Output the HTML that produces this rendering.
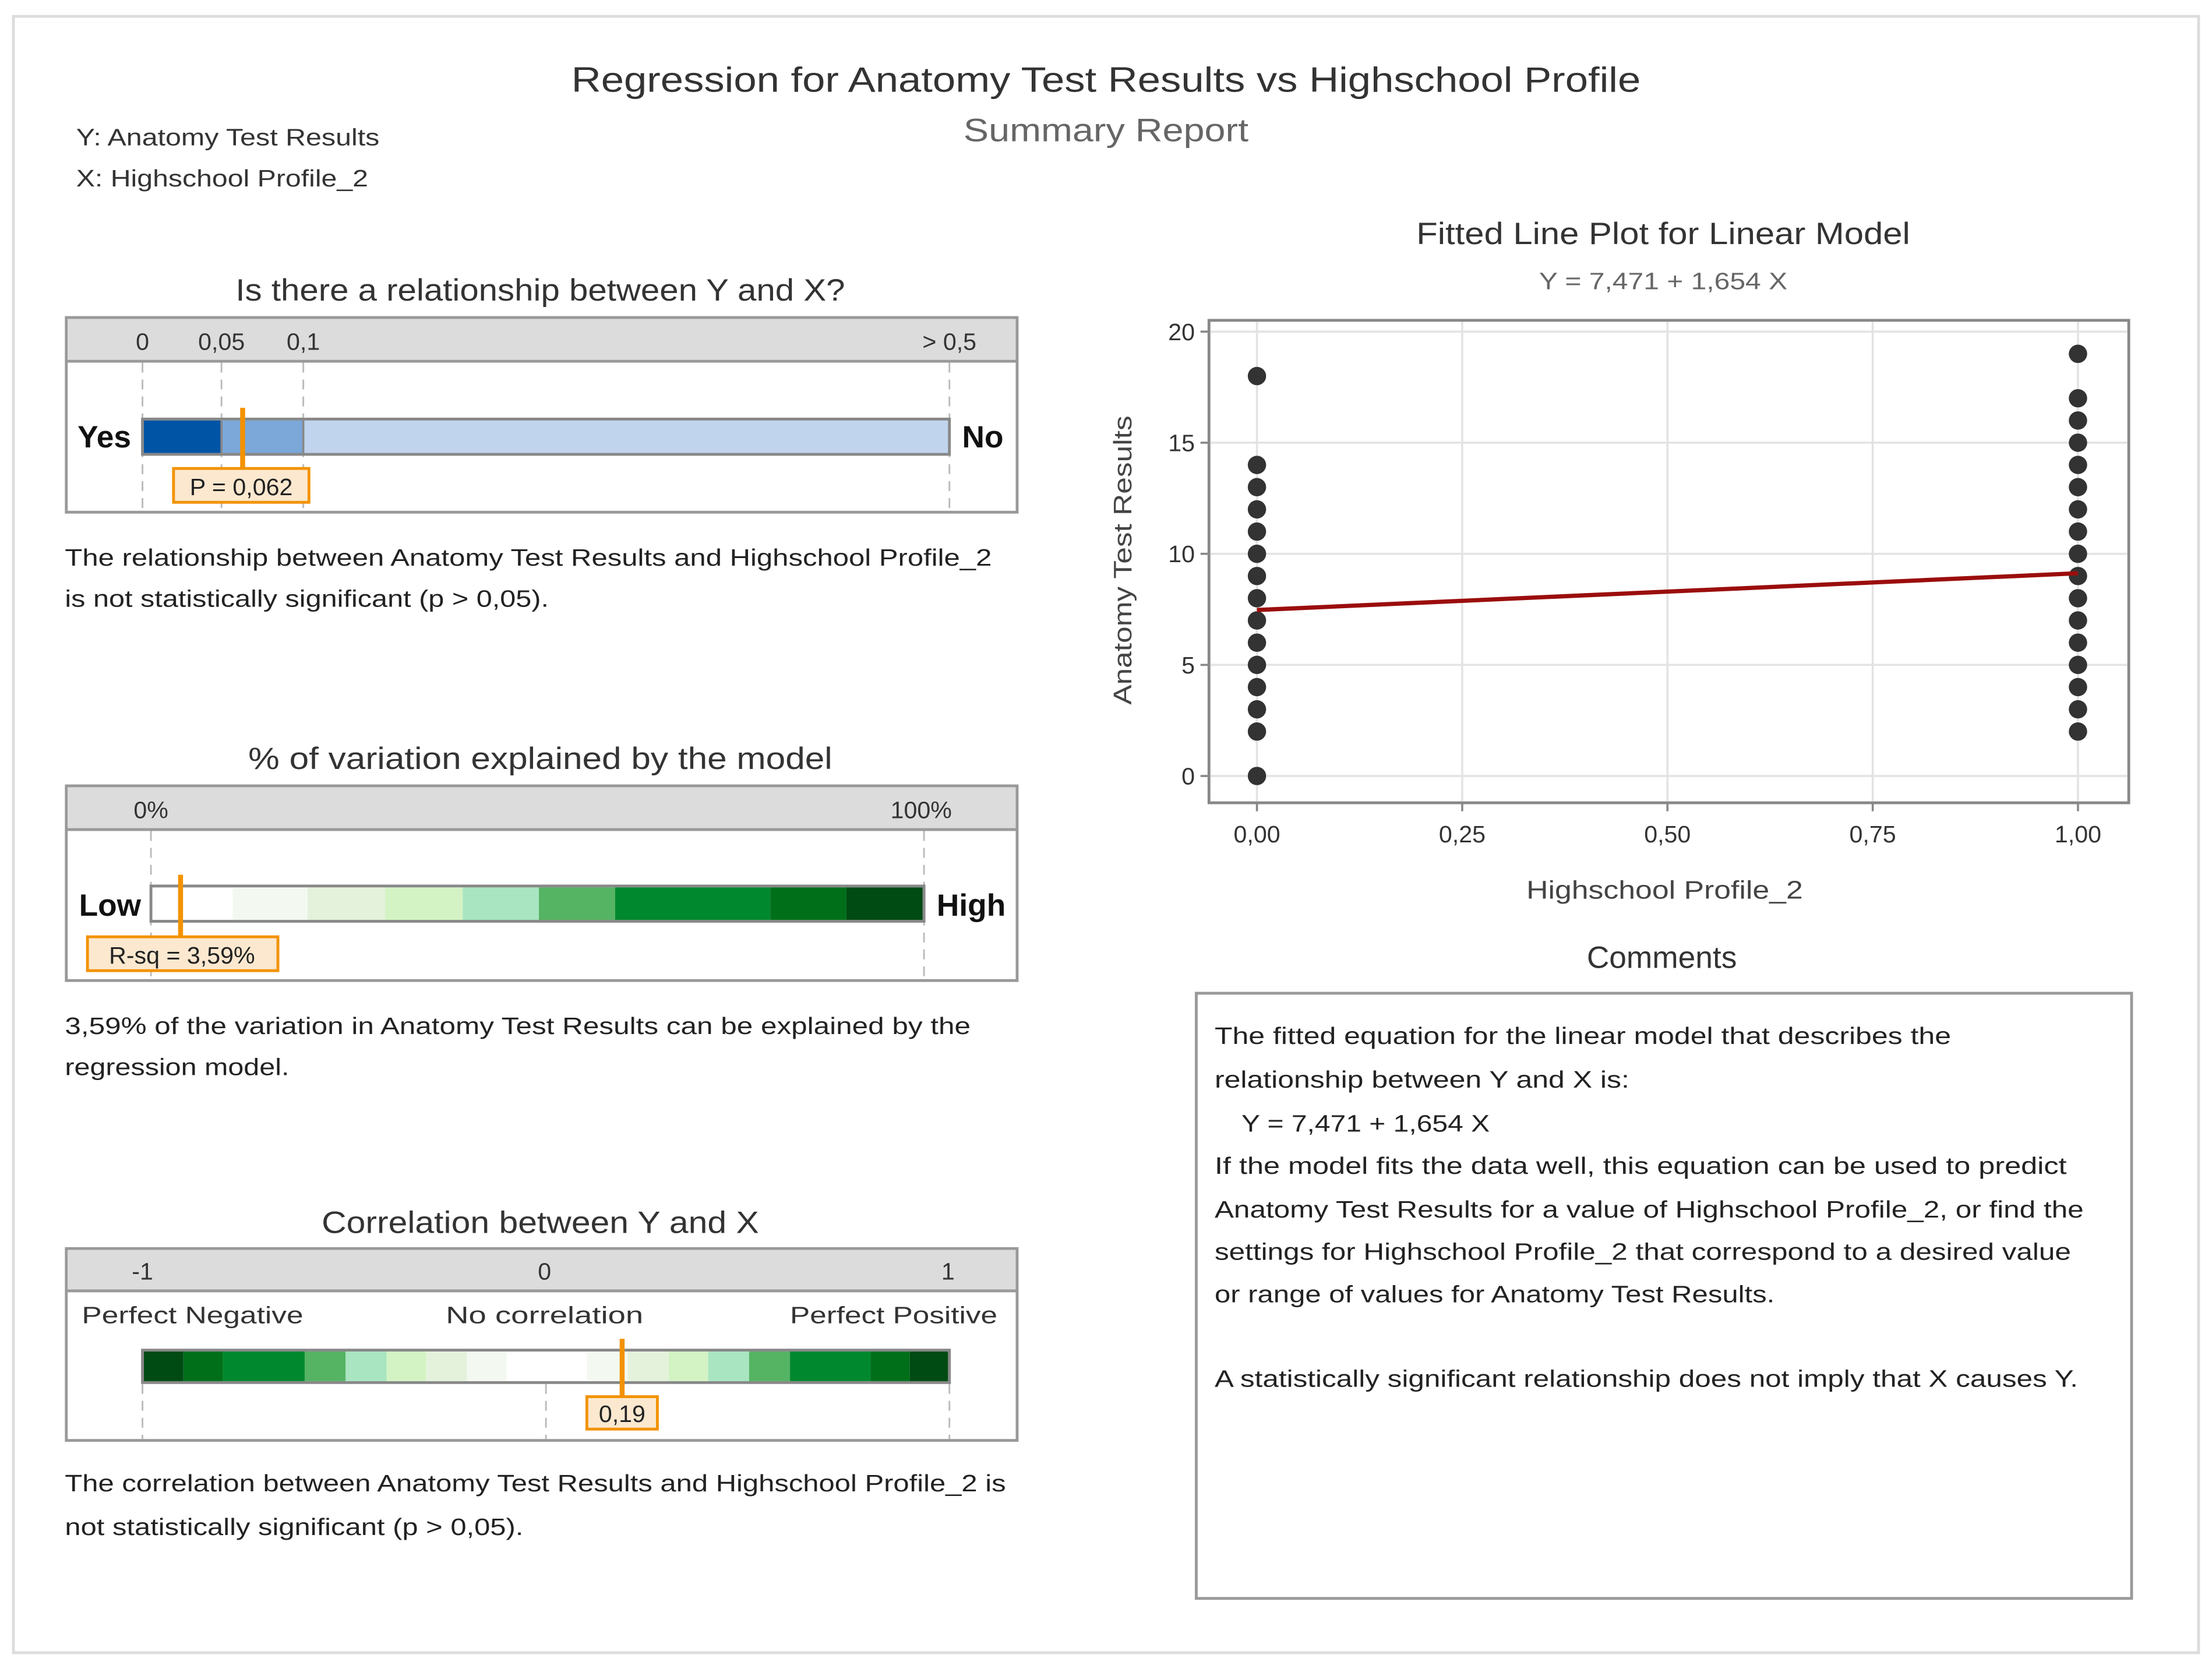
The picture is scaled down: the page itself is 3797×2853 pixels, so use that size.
<!DOCTYPE html>
<html><head><meta charset="utf-8"><style>
html,body{margin:0;padding:0;background:#fff;}
svg{display:block;font-family:"Liberation Sans",sans-serif;}
</style></head><body>
<svg id="root" width="3797" height="2853" viewBox="0 0 1568 1178">
<rect x="9.5" y="11.5" width="1549" height="1160" fill="#fff" stroke="#dcdcdc" stroke-width="2"/>
<text x="784" y="65" font-size="25" fill="#333" text-anchor="middle" textLength="758" lengthAdjust="spacingAndGlyphs">Regression for Anatomy Test Results vs Highschool Profile</text>
<text x="784" y="100" font-size="23" fill="#666" text-anchor="middle" textLength="202" lengthAdjust="spacingAndGlyphs">Summary Report</text>
<text x="54" y="103" font-size="17" fill="#333" textLength="215" lengthAdjust="spacingAndGlyphs">Y: Anatomy Test Results</text>
<text x="54" y="132" font-size="17" fill="#333" textLength="207" lengthAdjust="spacingAndGlyphs">X: Highschool Profile_2</text>

<!-- Panel 1 -->
<g>
<text x="383" y="213" font-size="22" fill="#333" text-anchor="middle" textLength="432" lengthAdjust="spacingAndGlyphs">Is there a relationship between Y and X?</text>
<rect x="47" y="225" width="674" height="138" fill="#fff" stroke="#999" stroke-width="2"/>
<rect x="48" y="226" width="672" height="30" fill="#dcdcdc"/>
<line x1="47" y1="256" x2="721" y2="256" stroke="#999" stroke-width="2"/>
<g font-size="17" fill="#333" text-anchor="middle">
<text x="101" y="248">0</text><text x="157" y="248">0,05</text><text x="215" y="248">0,1</text><text x="673" y="248">&gt; 0,5</text>
</g>
<g stroke="#bbb" stroke-dasharray="7,5" stroke-width="1.2">
<line x1="101" y1="257" x2="101" y2="362"/><line x1="157" y1="257" x2="157" y2="362"/><line x1="215" y1="257" x2="215" y2="362"/><line x1="673" y1="257" x2="673" y2="362"/>
</g>
<rect x="101" y="297" width="572" height="25" fill="#c0d4ee" stroke="#888" stroke-width="2"/>
<rect x="102" y="298" width="55" height="23" fill="#0054a6"/>
<rect x="157" y="298" width="58" height="23" fill="#7ba7d9"/>
<line x1="157" y1="298" x2="157" y2="321" stroke="#888" stroke-width="1.5"/><line x1="215" y1="298" x2="215" y2="321" stroke="#888" stroke-width="1.5"/>
<text x="55" y="317" font-size="22" font-weight="bold" fill="#111">Yes</text>
<text x="682" y="317" font-size="22" font-weight="bold" fill="#111">No</text>
<line x1="172" y1="289" x2="172" y2="332" stroke="#f39200" stroke-width="3.5"/>
<rect x="123" y="332" width="96" height="24" fill="#fbe8cf" stroke="#f39200" stroke-width="2"/>
<text x="171" y="351" font-size="17" fill="#222" text-anchor="middle">P = 0,062</text>
<text x="46" y="401" font-size="17" fill="#222" textLength="657" lengthAdjust="spacingAndGlyphs">The relationship between Anatomy Test Results and Highschool Profile_2</text>
<text x="46" y="430" font-size="17" fill="#222" textLength="343" lengthAdjust="spacingAndGlyphs">is not statistically significant (p &gt; 0,05).</text>
</g>

<!-- Panel 2 -->
<g>
<text x="383" y="545" font-size="22" fill="#333" text-anchor="middle" textLength="414" lengthAdjust="spacingAndGlyphs">% of variation explained by the model</text>
<rect x="47" y="557" width="674" height="138" fill="#fff" stroke="#999" stroke-width="2"/>
<rect x="48" y="558" width="672" height="30" fill="#dcdcdc"/>
<line x1="47" y1="588" x2="721" y2="588" stroke="#999" stroke-width="2"/>
<text x="107" y="580" font-size="17" fill="#333" text-anchor="middle">0%</text>
<text x="653" y="580" font-size="17" fill="#333" text-anchor="middle">100%</text>
<g stroke="#bbb" stroke-dasharray="7,5" stroke-width="1.2"><line x1="107" y1="589" x2="107" y2="694"/><line x1="655" y1="589" x2="655" y2="694"/></g>
<rect x="107" y="628" width="548" height="25" fill="#fff" stroke="#888" stroke-width="2"/>
<rect x="165" y="629" width="53" height="23" fill="#f3f9f1"/>
<rect x="218" y="629" width="55" height="23" fill="#e4f2dc"/>
<rect x="273" y="629" width="55" height="23" fill="#d4f3c4"/>
<rect x="328" y="629" width="54" height="23" fill="#a8e5c0"/>
<rect x="382" y="629" width="54" height="23" fill="#55b364"/>
<rect x="436" y="629" width="110" height="23" fill="#00882e"/>
<rect x="546" y="629" width="54" height="23" fill="#006f1a"/>
<rect x="600" y="629" width="54" height="23" fill="#004a14"/>
<text x="56" y="649" font-size="22" font-weight="bold" fill="#111">Low</text>
<text x="664" y="649" font-size="22" font-weight="bold" fill="#111">High</text>
<line x1="128" y1="620" x2="128" y2="664" stroke="#f39200" stroke-width="3.5"/>
<rect x="62" y="664" width="135" height="24" fill="#fbe8cf" stroke="#f39200" stroke-width="2"/>
<text x="129" y="683" font-size="17" fill="#222" text-anchor="middle">R-sq = 3,59%</text>
<text x="46" y="733" font-size="17" fill="#222" textLength="642" lengthAdjust="spacingAndGlyphs">3,59% of the variation in Anatomy Test Results can be explained by the</text>
<text x="46" y="762" font-size="17" fill="#222" textLength="159" lengthAdjust="spacingAndGlyphs">regression model.</text>
</g>

<!-- Panel 3 -->
<g>
<text x="383" y="874" font-size="22" fill="#333" text-anchor="middle" textLength="310" lengthAdjust="spacingAndGlyphs">Correlation between Y and X</text>
<rect x="47" y="885" width="674" height="136" fill="#fff" stroke="#999" stroke-width="2"/>
<rect x="48" y="886" width="672" height="29" fill="#dcdcdc"/>
<line x1="47" y1="915" x2="721" y2="915" stroke="#999" stroke-width="2"/>
<g font-size="17" fill="#333" text-anchor="middle"><text x="101" y="907">-1</text><text x="386" y="907">0</text><text x="672" y="907">1</text></g>
<text x="58" y="938" font-size="17" fill="#333" textLength="157" lengthAdjust="spacingAndGlyphs">Perfect Negative</text>
<text x="386" y="938" font-size="17" fill="#333" text-anchor="middle" textLength="140" lengthAdjust="spacingAndGlyphs">No correlation</text>
<text x="707" y="938" font-size="17" fill="#333" text-anchor="end" textLength="147" lengthAdjust="spacingAndGlyphs">Perfect Positive</text>
<g stroke="#bbb" stroke-dasharray="7,5" stroke-width="1.2"><line x1="101" y1="981" x2="101" y2="1020"/><line x1="387" y1="981" x2="387" y2="1020"/><line x1="673" y1="981" x2="673" y2="1020"/></g>
<rect x="101" y="957" width="572" height="23" fill="#fff" stroke="#888" stroke-width="2"/>
<rect x="102" y="958" width="28" height="21" fill="#004a14"/>
<rect x="130" y="958" width="28" height="21" fill="#006f1a"/>
<rect x="158" y="958" width="58" height="21" fill="#00882e"/>
<rect x="216" y="958" width="29" height="21" fill="#55b364"/>
<rect x="245" y="958" width="29" height="21" fill="#a8e5c0"/>
<rect x="274" y="958" width="28" height="21" fill="#d4f3c4"/>
<rect x="302" y="958" width="29" height="21" fill="#e4f2dc"/>
<rect x="331" y="958" width="28" height="21" fill="#f3f9f1"/>
<rect x="416" y="958" width="29" height="21" fill="#f3f9f1"/>
<rect x="445" y="958" width="29" height="21" fill="#e4f2dc"/>
<rect x="474" y="958" width="28" height="21" fill="#d4f3c4"/>
<rect x="502" y="958" width="29" height="21" fill="#a8e5c0"/>
<rect x="531" y="958" width="29" height="21" fill="#55b364"/>
<rect x="560" y="958" width="57" height="21" fill="#00882e"/>
<rect x="617" y="958" width="28" height="21" fill="#006f1a"/>
<rect x="645" y="958" width="27" height="21" fill="#004a14"/>
<line x1="441" y1="949" x2="441" y2="990" stroke="#f39200" stroke-width="3.5"/>
<rect x="416" y="990" width="50" height="23" fill="#fbe8cf" stroke="#f39200" stroke-width="2"/>
<text x="441" y="1008" font-size="17" fill="#222" text-anchor="middle">0,19</text>
<text x="46" y="1057" font-size="17" fill="#222" textLength="667" lengthAdjust="spacingAndGlyphs">The correlation between Anatomy Test Results and Highschool Profile_2 is</text>
<text x="46" y="1088" font-size="17" fill="#222" textLength="325" lengthAdjust="spacingAndGlyphs">not statistically significant (p &gt; 0,05).</text>
</g>

<!-- Chart -->
<g id="chart">
<text x="1179" y="173" font-size="22" fill="#333" text-anchor="middle" textLength="350" lengthAdjust="spacingAndGlyphs">Fitted Line Plot for Linear Model</text>
<text x="1179" y="205" font-size="17" fill="#666" text-anchor="middle" textLength="176" lengthAdjust="spacingAndGlyphs">Y = 7,471 + 1,654 X</text>
<rect x="857" y="227" width="652" height="342" fill="#fff" stroke="#888" stroke-width="2"/>
<g id="grid"></g>
<g id="marks"></g>
<text x="1180" y="637" font-size="18" fill="#444" text-anchor="middle" textLength="196" lengthAdjust="spacingAndGlyphs">Highschool Profile_2</text>
<text transform="translate(802,397) rotate(-90)" font-size="18" fill="#444" text-anchor="middle" textLength="205" lengthAdjust="spacingAndGlyphs">Anatomy Test Results</text>
</g>

<!-- Comments -->
<g>
<text x="1178" y="686" font-size="22" fill="#333" text-anchor="middle">Comments</text>
<rect x="848" y="704" width="663" height="429" fill="#fff" stroke="#999" stroke-width="2"/>
<g font-size="17" fill="#222">
<text x="861" y="740" textLength="522" lengthAdjust="spacingAndGlyphs">The fitted equation for the linear model that describes the</text>
<text x="861" y="771" textLength="294" lengthAdjust="spacingAndGlyphs">relationship between Y and X is:</text>
<text x="880" y="802" textLength="176" lengthAdjust="spacingAndGlyphs">Y = 7,471 + 1,654 X</text>
<text x="861" y="832" textLength="604" lengthAdjust="spacingAndGlyphs">If the model fits the data well, this equation can be used to predict</text>
<text x="861" y="863" textLength="616" lengthAdjust="spacingAndGlyphs">Anatomy Test Results for a value of Highschool Profile_2, or find the</text>
<text x="861" y="893" textLength="607" lengthAdjust="spacingAndGlyphs">settings for Highschool Profile_2 that correspond to a desired value</text>
<text x="861" y="923" textLength="397" lengthAdjust="spacingAndGlyphs">or range of values for Anatomy Test Results.</text>
<text x="861" y="983" textLength="612" lengthAdjust="spacingAndGlyphs">A statistically significant relationship does not imply that X causes Y.</text>
</g>
</g>
</svg>
<script>
const xTicks = [0, 0.25, 0.5, 0.75, 1];
const xTickLabels = ["0,00", "0,25", "0,50", "0,75", "1,00"];
const yTicks = [0, 5, 10, 15, 20];
const yTickLabels = ["0", "5", "10", "15", "20"];
const group0Y = [0, 2, 3, 4, 5, 6, 7, 8, 9, 10, 11, 12, 13, 14, 18];
const group1Y = [2, 3, 4, 5, 6, 7, 8, 9, 10, 11, 12, 13, 14, 15, 16, 17, 19];
const intercept = 7.471;
const slope = 1.654;

const NS = "http://www.w3.org/2000/svg";
const sx = v => 891 + v * (1473 - 891);
const sy = v => 550 - v * (550 - 235) / 20;
function mk(tag, attrs, parent) {
  const e = document.createElementNS(NS, tag);
  for (const k in attrs) e.setAttribute(k, attrs[k]);
  parent.appendChild(e);
  return e;
}
const grid = document.getElementById('grid');
const marks = document.getElementById('marks');
xTicks.forEach((t, i) => {
  const l = mk('line', {x1: sx(t), x2: sx(t), y1: 228, y2: 568, stroke: '#e3e3e3', 'stroke-width': 1.5}, grid);
  
  
  mk('line', {x1: sx(t), x2: sx(t), y1: 569, y2: 575, stroke: '#888', 'stroke-width': 1.5}, grid);
  const tx = mk('text', {x: sx(t), y: 597, 'font-size': 17, fill: '#333', 'text-anchor': 'middle'}, grid);
  tx.textContent = xTickLabels[i];
  
  
});
yTicks.forEach((t, i) => {
  const l = mk('line', {x1: 858, x2: 1508, y1: sy(t), y2: sy(t), stroke: '#e3e3e3', 'stroke-width': 1.5}, grid);
  
  
  mk('line', {x1: 851, x2: 857, y1: sy(t), y2: sy(t), stroke: '#888', 'stroke-width': 1.5}, grid);
  const tx = mk('text', {x: 847, y: sy(t) + 6, 'font-size': 17, fill: '#333', 'text-anchor': 'end'}, grid);
  tx.textContent = yTickLabels[i];
  
  
});
[[0, group0Y], [1, group1Y]].forEach(([gx, arr]) => {
  arr.forEach(v => {
    const c = mk('circle', {cx: sx(gx), cy: sy(v), r: 6.5, fill: '#333'}, marks);
    
    
  });
});
const fl = mk('line', {x1: sx(0), y1: sy(intercept), x2: sx(1), y2: sy(intercept + slope), stroke: '#9b0d0d', 'stroke-width': 3}, marks);


</script>
</body></html>
